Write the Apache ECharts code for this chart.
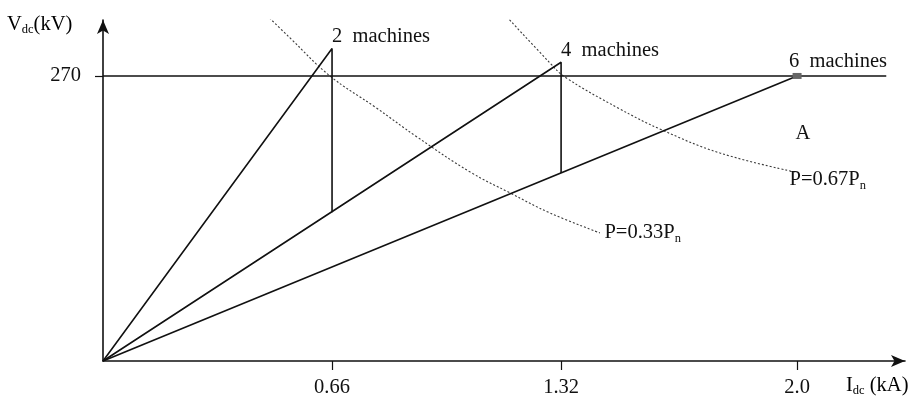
<!DOCTYPE html>
<html>
<head>
<meta charset="utf-8">
<script src="https://cdn.jsdelivr.net/npm/echarts@6/dist/echarts.min.js"></script>
<style>
  html, body { margin: 0; padding: 0; background: #fff; }
  #chart { width: 918px; height: 410px; }
</style>
</head>
<body>
<div id="chart"></div>
<script>
// DC-link voltage vs. current for different numbers of machines in operation
const machineLabels = ['2  machines', '4  machines', '6  machines'];
const switchCurrents = [0.66, 1.32, 2.0];      // kA
const peakVoltages = [296, 283, 270];          // kV at the switching current
const dropVoltages = [141, 178, 270];          // kV after the next machine joins
const ratedVoltage = 270;                      // kV
const ratedLineEnd = 2.257;                    // kA, right end of the 270 kV line

// Constant-power curves
const p033Current = [0.447, 0.539, 0.654, 0.784, 0.905, 1.058, 1.173, 1.288, 1.432];
const p033Voltage = [335.4, 306, 270, 240.6, 212.2, 179, 159.2, 140.2, 121.3];
const p067Current = [1.164, 1.288, 1.331, 1.484, 1.611, 1.778, 1.994];
const p067Voltage = [325.9, 282.3, 269, 239.7, 218.8, 197, 179];

const xTicks = [0.66, 1.32, 2.0];
const yTicks = [270];

const serif = 'Liberation Serif';
const fs = 20.5;
const ink = '#111';

function pairs(xs, ys) { return xs.map((x, i) => [x, ys[i]]); }

const branchSeries = switchCurrents.map((c, i) => {
  const pts = [[0, 0], [c, peakVoltages[i]]];
  if (dropVoltages[i] !== peakVoltages[i]) pts.push([c, dropVoltages[i]]);
  return {
    type: 'line', name: machineLabels[i], data: pts,
    symbol: 'none', lineStyle: { color: ink, width: 1.6 }, z: 3, animation: false
  };
});

const richSub = {
  m: { fontFamily: serif, fontSize: fs, color: ink, lineHeight: 26, verticalAlign: 'middle' },
  s: { fontFamily: serif, fontSize: 12.5, color: ink, lineHeight: 26, verticalAlign: 'bottom', padding: [0, 0, 1, 0] }
};

const annotations = [
  { value: [switchCurrents[0], peakVoltages[0]], label: { formatter: machineLabels[0], position: 'top', align: 'left', distance: 1 } },
  { value: [switchCurrents[1], peakVoltages[1]], label: { formatter: machineLabels[1], position: 'top', align: 'left', distance: 1 } },
  { value: [switchCurrents[2], peakVoltages[2]], label: { formatter: machineLabels[2], position: 'top', align: 'left', distance: 3, offset: [-8, 0] } },
  { value: [2.017, 215], label: { formatter: 'A', position: 'inside' } },
  { value: [p033Current[p033Current.length - 1], p033Voltage[p033Voltage.length - 1]],
    label: { formatter: '{m|P=0.33P}{s|n}', position: 'right', distance: 4, rich: richSub } },
  { value: [p067Current[p067Current.length - 1], p067Voltage[p067Voltage.length - 1]],
    label: { formatter: '{m|P=0.67P}{s|n}', position: 'right', distance: 0, offset: [-6, 8], rich: richSub } }
];

const chart = echarts.init(document.getElementById('chart'), null, { renderer: 'canvas' });
chart.setOption({
  backgroundColor: '#fff',
  animation: false,
  grid: { left: 103, right: 13, top: 20, bottom: 49 },
  xAxis: {
    type: 'value', min: 0, max: 2.311,
    axisLine: { show: true, lineStyle: { color: ink, width: 1.6 }, symbol: ['none', 'arrow'], symbolSize: [9, 14] },
    axisTick: { show: true, customValues: xTicks, length: 9, inside: false, lineStyle: { color: ink, width: 1.2 } },
    axisLabel: { customValues: xTicks, margin: 16, fontFamily: serif, fontSize: fs, color: ink,
      formatter: v => (v === 2 ? '2.0' : String(v)) },
    splitLine: { show: false }
  },
  yAxis: {
    type: 'value', min: 0, max: 323,
    axisLine: { show: true, lineStyle: { color: ink, width: 1.6 }, symbol: ['none', 'arrow'], symbolSize: [9, 14] },
    axisTick: { show: true, customValues: yTicks, length: 8, lineStyle: { color: ink, width: 1.2 } },
    axisLabel: { customValues: yTicks, margin: 22, fontFamily: serif, fontSize: fs, color: ink },
    splitLine: { show: false }
  },
  graphic: [
    { type: 'text', left: 7, top: 14, style: { text: '{m|V}{s|dc}{m|(kV)}', rich: richSub } },
    { type: 'text', left: 846, top: 375, style: { text: '{m|I}{s|dc}{m| (kA)}', rich: richSub } }
  ],
  series: [
    {
      type: 'line', name: 'rated', data: [[0, ratedVoltage], [ratedLineEnd, ratedVoltage]],
      symbol: 'none', lineStyle: { color: ink, width: 1.6 }, z: 2
    },
    ...branchSeries,
    {
      type: 'line', name: 'P=0.33Pn', data: pairs(p033Current, p033Voltage), smooth: 0.4,
      symbol: 'none', lineStyle: { color: '#3a3a3a', width: 1.1, type: [2, 2] }, z: 1
    },
    {
      type: 'line', name: 'P=0.67Pn', data: pairs(p067Current, p067Voltage), smooth: 0.4,
      symbol: 'none', lineStyle: { color: '#3a3a3a', width: 1.1, type: [2, 2] }, z: 1
    },
    {
      type: 'scatter', name: 'marker', data: [[switchCurrents[2], peakVoltages[2]]],
      symbol: 'rect', symbolSize: [9, 6], itemStyle: { color: '#666', opacity: 1 }, z: 4
    },
    {
      type: 'scatter', name: 'annotations', data: annotations,
      symbol: 'circle', symbolSize: 1, itemStyle: { color: 'rgba(0,0,0,0)', opacity: 1 },
      label: { show: true, fontFamily: serif, fontSize: fs, color: ink, opacity: 1 }, z: 5, silent: true
    }
  ]
});
</script>
</body>
</html>
